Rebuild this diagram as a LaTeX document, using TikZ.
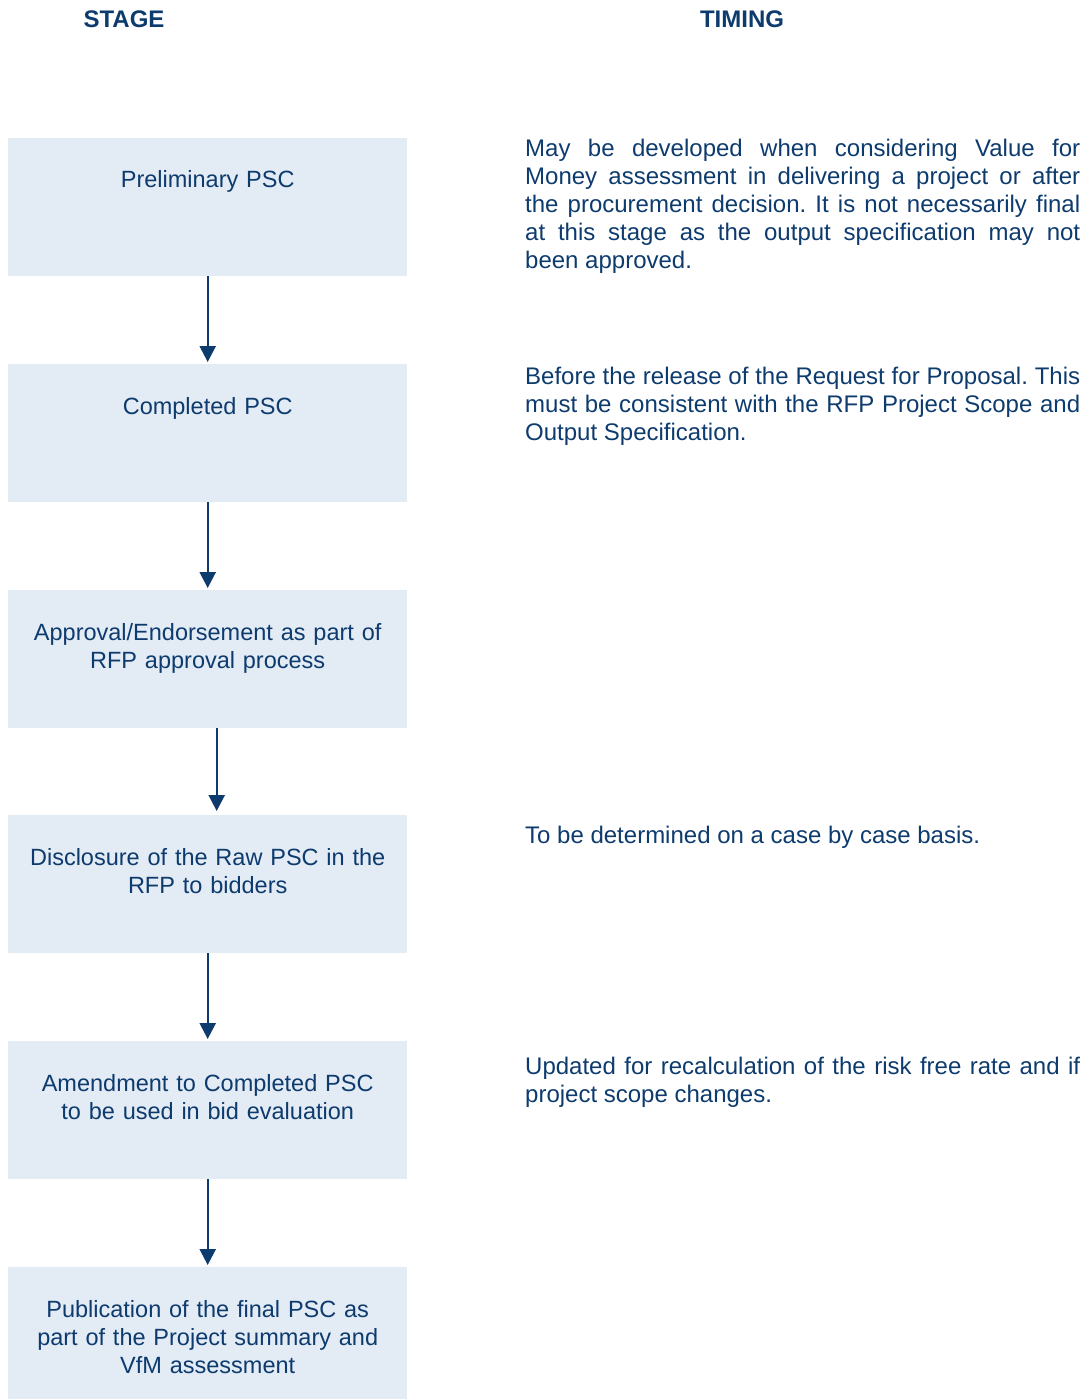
\documentclass[tikz,border=0pt]{standalone}
\usepackage{fontspec}
\setmainfont{Liberation Sans}[WordSpace={1,2,0}]
\newfontfamily\boxfont{Liberation Sans}[WordSpace={1,0,0}]
\usepackage{tikz}
\usetikzlibrary{arrows.meta}
\usetikzlibrary{positioning}
\definecolor{pscblue}{HTML}{0D3B6E}
\definecolor{pscfill}{HTML}{E3EBF5}
\hyphenpenalty=10000
\exhyphenpenalty=10000
\frenchspacing

\begin{document}
\begin{tikzpicture}[x=1pt,y=-1pt,
	stagebox/.style={fill=pscfill, minimum width=399pt, minimum height=138pt, inner sep=0pt, anchor=north west},
	stagetext/.style={text=pscblue, font=\boxfont\fontsize{23.5}{28}\selectfont, text width=399pt, align=center, anchor=base, inner sep=0pt},
	timetext/.style={text=pscblue, font=\fontsize{24}{28}\selectfont, text width=555pt, align=justify, anchor=base west, inner sep=0pt},
	header/.style={text=pscblue, font=\fontsize{24}{28}\selectfont\bfseries, anchor=base, inner sep=0pt},
	flow/.style={draw=pscblue, line width=2.4pt, -{Triangle[width=16pt,length=16pt]}}]
	\useasboundingbox (0,0) rectangle (1089,1399);
	
	% headers
	\node[header] (hstage) at (124,28) {STAGE};
	\node[header] (htiming) at (742,28) {TIMING};
	
	% draw stage boxes
	\node[stagebox] (s1) at (8,138) {};
	\node[stagebox] (s2) at (8,364) {};
	\node[stagebox] (s3) at (8,590) {};
	\node[stagebox] (s4) at (8,815) {};
	\node[stagebox] (s5) at (8,1041) {};
	\node[stagebox] (s6) at (8,1267) {};
	
	% stage texts
	\node[stagetext] (t1) at ([yshift=-50pt]s1.north) {Preliminary PSC};
	\node[stagetext] (t2) at ([yshift=-50pt]s2.north) {Completed PSC};
	\node[stagetext] (t3) at ([yshift=-50pt]s3.north) {Approval/Endorsement as part of\\RFP approval process};
	\node[stagetext] (t4) at ([yshift=-50pt]s4.north) {Disclosure of the Raw PSC in the\\RFP to bidders};
	\node[stagetext] (t5) at ([yshift=-50pt]s5.north) {Amendment to Completed PSC\\to be used in bid evaluation};
	\node[stagetext] (t6) at ([yshift=-50pt]s6.north) {Publication of the final PSC as\\part of the Project summary and\\VfM assessment};
	
	% draw arrows
	\foreach \a/\b in {s1/s2,s2/s3,s4/s5,s5/s6}
	\draw[flow] (\a.south) -- ([yshift=2pt]\b.north);
	\draw[flow] ([xshift=9pt]s3.south) -- ([xshift=9pt,yshift=4pt]s4.north);
	
	% timing texts
	\node[timetext] (m1) at (525,157) {May be developed when considering Value for Money assessment in delivering a project or after the procurement decision. It is not necessarily final at this stage as the output specification may not been approved.};
	\node[timetext] (m2) at (525,384) {Before the release of the Request for Proposal. This must be consistent with the RFP Project Scope and Output Specification.};
	\node[timetext] (m4) at (525,843) {To be determined on a case by case basis.};
	\node[timetext] (m5) at (525,1074) {Updated for recalculation of the risk free rate and if project scope changes.};
\end{tikzpicture}
\end{document}
